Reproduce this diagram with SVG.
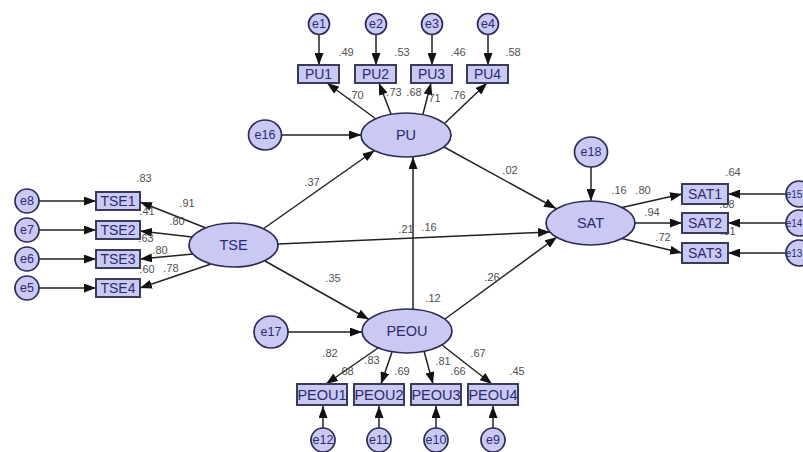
<svg xmlns="http://www.w3.org/2000/svg" width="803" height="452" viewBox="0 0 803 452">
<defs>
<marker id="ah" markerUnits="userSpaceOnUse" markerWidth="12" markerHeight="9" refX="12" refY="4.5" orient="auto">
<path d="M0,0 L12,4.5 L0,9 z" fill="#111"/>
</marker>
<style>
.ln{stroke:#222;stroke-width:1.5;fill:none;marker-end:url(#ah)}
.lv{fill:#c9c9f4;stroke:#2b2b55;stroke-width:1.7}
.bx{fill:#c9c9f4;stroke:#3a3a5a;stroke-width:2}
.ex{fill:#c9c9f4;stroke:#2b2b55;stroke-width:1.7}
.t{font-family:"Liberation Sans",Arial,sans-serif;fill:#2a2a70;text-anchor:middle;dominant-baseline:central}
.lt{font-size:14.5px}
.bt{font-size:14px}
.pt{font-size:14.5px}
.et{font-size:12.5px}
.n{font-family:"Liberation Sans",Arial,sans-serif;font-size:11px;fill:#505050;text-anchor:middle;dominant-baseline:central}
</style>
</defs>
<rect width="803" height="452" fill="#fff"/>

<g id="connectors">
<line class="ln" x1="319" y1="35" x2="319" y2="65"/>
<line class="ln" x1="376" y1="35" x2="376" y2="65"/>
<line class="ln" x1="432" y1="35" x2="432" y2="65"/>
<line class="ln" x1="488" y1="35" x2="488" y2="65"/>
<line class="ln" x1="376" y1="119" x2="327" y2="83"/>
<line class="ln" x1="391" y1="114" x2="379" y2="83"/>
<line class="ln" x1="423" y1="114" x2="431" y2="83"/>
<line class="ln" x1="445" y1="123" x2="487" y2="83"/>
<line class="ln" x1="281" y1="135" x2="361" y2="135"/>
<line class="ln" x1="263" y1="229" x2="374.5" y2="150.5"/>
<line class="ln" x1="265" y1="261" x2="369" y2="319.5"/>
<line class="ln" x1="278" y1="244" x2="550" y2="232"/>
<line class="ln" x1="413" y1="309" x2="413" y2="157"/>
<line class="ln" x1="444" y1="147" x2="556" y2="208.5"/>
<line class="ln" x1="445" y1="319" x2="557" y2="237"/>
<line class="ln" x1="288" y1="332" x2="362" y2="332"/>
<line class="ln" x1="591" y1="167" x2="591" y2="201"/>
<line class="ln" x1="622" y1="207.5" x2="682" y2="194"/>
<line class="ln" x1="635" y1="223" x2="682" y2="223"/>
<line class="ln" x1="622" y1="238.5" x2="682" y2="253"/>
<line class="ln" x1="786" y1="194" x2="728" y2="194"/>
<line class="ln" x1="786" y1="223" x2="728" y2="223"/>
<line class="ln" x1="786" y1="253" x2="728" y2="253"/>
<line class="ln" x1="206" y1="228" x2="140" y2="202"/>
<line class="ln" x1="192" y1="237" x2="140" y2="231"/>
<line class="ln" x1="193" y1="254" x2="140" y2="259"/>
<line class="ln" x1="211" y1="264" x2="140" y2="288"/>
<line class="ln" x1="39" y1="201" x2="96" y2="201"/>
<line class="ln" x1="39" y1="230" x2="96" y2="230"/>
<line class="ln" x1="39" y1="259" x2="96" y2="259"/>
<line class="ln" x1="39" y1="288" x2="96" y2="288"/>
<line class="ln" x1="378" y1="348" x2="326" y2="384"/>
<line class="ln" x1="392" y1="352" x2="381" y2="384"/>
<line class="ln" x1="424" y1="351" x2="433" y2="384"/>
<line class="ln" x1="442" y1="345" x2="492" y2="384"/>
<line class="ln" x1="323" y1="428" x2="323" y2="406"/>
<line class="ln" x1="379" y1="428" x2="379" y2="406"/>
<line class="ln" x1="436" y1="428" x2="436" y2="406"/>
<line class="ln" x1="493" y1="428" x2="493" y2="406"/>
</g>

<g id="hidden-labels">
<text class="n" x="147" y="211">.41</text>
<text class="n" x="146" y="238">.63</text>
<text class="n" x="147" y="269">.60</text>
<text class="n" x="433" y="98">.71</text>
<text class="n" x="727" y="204">.88</text>
<text class="n" x="728" y="231">.51</text>
</g>

<g id="e1"><circle class="ex" cx="319" cy="24" r="10.5"/><text class="t et" x="319" y="24">e1</text></g>
<g id="e2"><circle class="ex" cx="376" cy="24" r="10.5"/><text class="t et" x="376" y="24">e2</text></g>
<g id="e3"><circle class="ex" cx="432" cy="24" r="10.5"/><text class="t et" x="432" y="24">e3</text></g>
<g id="e4"><circle class="ex" cx="488" cy="24" r="10.5"/><text class="t et" x="488" y="24">e4</text></g>
<g id="PU1"><rect class="bx" x="298" y="65" width="41" height="18"/><text class="t bt" x="318.5" y="74">PU1</text></g>
<g id="PU2"><rect class="bx" x="355" y="65" width="41" height="18"/><text class="t bt" x="375.5" y="74">PU2</text></g>
<g id="PU3"><rect class="bx" x="411" y="65" width="41" height="18"/><text class="t bt" x="431.5" y="74">PU3</text></g>
<g id="PU4"><rect class="bx" x="467" y="65" width="41" height="18"/><text class="t bt" x="487.5" y="74">PU4</text></g>
<g id="e16"><ellipse class="ex" cx="265" cy="135" rx="16.5" ry="15"/><text class="t et" x="265" y="135">e16</text></g>
<g id="PU"><ellipse class="lv" cx="406" cy="135" rx="45" ry="22"/><text class="t lt" x="406" y="135">PU</text></g>
<g id="TSE"><ellipse class="lv" cx="233.5" cy="245" rx="44.5" ry="22"/><text class="t lt" x="233.5" y="245">TSE</text></g>
<g id="TSE1"><rect class="bx" x="96" y="192" width="44" height="18"/><text class="t bt" x="118" y="201">TSE1</text></g>
<g id="TSE2"><rect class="bx" x="96" y="221" width="44" height="18"/><text class="t bt" x="118" y="230">TSE2</text></g>
<g id="TSE3"><rect class="bx" x="96" y="250" width="44" height="18"/><text class="t bt" x="118" y="259">TSE3</text></g>
<g id="TSE4"><rect class="bx" x="96" y="279" width="44" height="18"/><text class="t bt" x="118" y="288">TSE4</text></g>
<g id="e8"><circle class="ex" cx="27" cy="201" r="12"/><text class="t et" x="27" y="201">e8</text></g>
<g id="e7"><circle class="ex" cx="27" cy="230" r="12"/><text class="t et" x="27" y="230">e7</text></g>
<g id="e6"><circle class="ex" cx="27" cy="259" r="12"/><text class="t et" x="27" y="259">e6</text></g>
<g id="e5"><circle class="ex" cx="27" cy="288" r="12"/><text class="t et" x="27" y="288">e5</text></g>
<g id="SAT"><ellipse class="lv" cx="590.5" cy="223" rx="44.5" ry="22"/><text class="t lt" x="590.5" y="223">SAT</text></g>
<g id="e18"><ellipse class="ex" cx="591" cy="152" rx="16.5" ry="15"/><text class="t et" x="591" y="152">e18</text></g>
<g id="SAT1"><rect class="bx" x="682" y="184" width="46" height="20"/><text class="t bt" x="705" y="194">SAT1</text></g>
<g id="SAT2"><rect class="bx" x="682" y="213" width="46" height="20"/><text class="t bt" x="705" y="223">SAT2</text></g>
<g id="SAT3"><rect class="bx" x="682" y="243" width="46" height="20"/><text class="t bt" x="705" y="253">SAT3</text></g>
<g id="e15"><circle class="ex" cx="799" cy="194" r="13"/><text class="t" style="font-size:10px" x="794" y="194">e15</text></g>
<g id="e14"><circle class="ex" cx="799" cy="223" r="13"/><text class="t" style="font-size:10px" x="794" y="223">e14</text></g>
<g id="e13"><circle class="ex" cx="799" cy="253" r="13"/><text class="t" style="font-size:10px" x="794" y="253">e13</text></g>
<g id="PEOU"><ellipse class="lv" cx="407" cy="331" rx="45" ry="22"/><text class="t lt" x="407" y="331">PEOU</text></g>
<g id="e17"><ellipse class="ex" cx="271" cy="332" rx="17" ry="16"/><text class="t et" x="271" y="332">e17</text></g>
<g id="PEOU1"><rect class="bx" x="297" y="384" width="50" height="21"/><text class="t pt" x="322" y="394.5">PEOU1</text></g>
<g id="PEOU2"><rect class="bx" x="354" y="384" width="50" height="21"/><text class="t pt" x="379" y="394.5">PEOU2</text></g>
<g id="PEOU3"><rect class="bx" x="411" y="384" width="50" height="21"/><text class="t pt" x="436" y="394.5">PEOU3</text></g>
<g id="PEOU4"><rect class="bx" x="468" y="384" width="50" height="21"/><text class="t pt" x="493" y="394.5">PEOU4</text></g>
<g id="e12"><circle class="ex" cx="323" cy="440" r="12"/><text class="t et" x="323" y="440">e12</text></g>
<g id="e11"><circle class="ex" cx="379" cy="440" r="12"/><text class="t et" x="379" y="440">e11</text></g>
<g id="e10"><circle class="ex" cx="436" cy="440" r="12"/><text class="t et" x="436" y="440">e10</text></g>
<g id="e9"><circle class="ex" cx="493" cy="440" r="12"/><text class="t et" x="493" y="440">e9</text></g>

<g id="labels">
<text class="n" x="346" y="52">.49</text>
<text class="n" x="402" y="52">.53</text>
<text class="n" x="458" y="52">.46</text>
<text class="n" x="513" y="52">.58</text>
<text class="n" x="356" y="95">.70</text>
<text class="n" x="394" y="92">.73</text>
<text class="n" x="414" y="92">.68</text>
<text class="n" x="458" y="95">.76</text>
<text class="n" x="144" y="178">.83</text>
<text class="n" x="187" y="203">.91</text>
<text class="n" x="177" y="221">.80</text>
<text class="n" x="160" y="250">.80</text>
<text class="n" x="171" y="268">.78</text>
<text class="n" x="312" y="182">.37</text>
<text class="n" x="510" y="170">.02</text>
<text class="n" x="406" y="229">.21</text>
<text class="n" x="429" y="227">.16</text>
<text class="n" x="333" y="278">.35</text>
<text class="n" x="492" y="277">.26</text>
<text class="n" x="433" y="298">.12</text>
<text class="n" x="619" y="190">.16</text>
<text class="n" x="643" y="190">.80</text>
<text class="n" x="652" y="212">.94</text>
<text class="n" x="663" y="237">.72</text>
<text class="n" x="733" y="172">.64</text>
<text class="n" x="330" y="353">.82</text>
<text class="n" x="346" y="371">.68</text>
<text class="n" x="372" y="360">.83</text>
<text class="n" x="402" y="371">.69</text>
<text class="n" x="443" y="361">.81</text>
<text class="n" x="458" y="371">.66</text>
<text class="n" x="478" y="353">.67</text>
<text class="n" x="517" y="371">.45</text>
</g>
</svg>
